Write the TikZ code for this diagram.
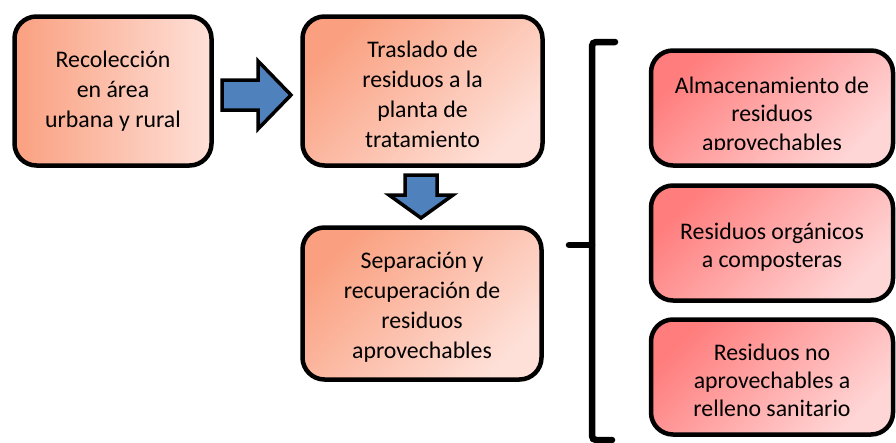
\documentclass[tikz,border=0pt]{standalone}
\usepackage{fontspec}
\setmainfont{Carlito}
\usetikzlibrary{calc}
\definecolor{salA}{RGB}{250,160,128}
\definecolor{salB}{RGB}{254,224,216}
\definecolor{redA}{RGB}{255,125,125}
\definecolor{redB}{RGB}{255,214,214}
\definecolor{arrowblue}{RGB}{79,129,189}
\tikzset{
  box/.style={draw=black, line width=4.5pt, rounded corners=22pt, align=center,
    inner sep=0pt, font=\fontsize{23.8}{30}\selectfont},
  hbox/.style={box, left color=salA, right color=salB},
  dbox/.style={box, top color=salA, bottom color=salB, shading angle=45},
  rbox/.style={box, top color=redA, bottom color=redB, shading angle=45,
    font=\fontsize{23.8}{28.5}\selectfont},
  boxtext/.style={align=center, inner sep=0pt},
  blockarrow/.style={draw=black, fill=arrowblue, line width=3.5pt, line join=miter},
  brace/.style={draw=black, line width=6.5pt, line cap=round, rounded corners=4pt},
}
\begin{document}
\begin{tikzpicture}[x=1pt,y=-1pt]
\useasboundingbox (0,0) rectangle (896,442);
% left column boxes
\node[hbox, minimum width=197pt, minimum height=149pt] (b1) at (113,91)
  {Recolección\\en área\\urbana y rural};
\node[dbox, minimum width=240pt, minimum height=149pt] (b2) at (422.5,91) {};
\node[boxtext, font=\fontsize{23.8}{30}\selectfont] (t2) at (422.5,94)
  {Traslado de\\residuos a la\\planta de\\tratamiento};
\node[dbox, minimum width=239pt, minimum height=152pt] (b3) at (422,303.5) {};
\node[boxtext, font=\fontsize{23.8}{30}\selectfont] (t3) at (422,307)
  {Separación y\\recuperación de\\residuos\\aprovechables};
% block arrows
\draw[blockarrow] (222,80) -- (258,80) -- (258,61) -- (291,95) -- (258,129) -- (258,110) -- (222,110) -- cycle;
\draw[blockarrow] (405,175) -- (437,175) -- (437,195) -- (453,195) -- (421,218) -- (389,195) -- (405,195) -- cycle;
% bracket
\coordinate (bt) at (615,42);
\coordinate (bb) at (612,440);
\coordinate (bm) at (569,245);
\draw[brace] (bt) -- (592,42) -- (592,440) -- (bb);
\draw[brace] (bm) -- (592,245);
% right column boxes
\node[rbox, minimum width=242pt, minimum height=115pt] (ra) at (772,108) {};
\begin{scope}
  \clip (650,50) rectangle (894,149);
  \node[boxtext, font=\fontsize{23.8}{28.5}\selectfont] (ta) at (772,115.5)
    {Almacenamiento de\\residuos\\aprovechables};
\end{scope}
\node[rbox, minimum width=242pt, minimum height=115pt] (rb) at (772,243) {};
\node[boxtext, font=\fontsize{23.8}{28}\selectfont] (tb) at (772,247)
  {Residuos orgánicos\\a composteras};
\node[rbox, minimum width=242pt, minimum height=115pt] (rc) at (772,377) {};
\node[boxtext, font=\fontsize{23.8}{28}\selectfont] (tc) at (772,380)
  {Residuos no\\aprovechables a\\relleno sanitario};
\end{tikzpicture}
\end{document}
